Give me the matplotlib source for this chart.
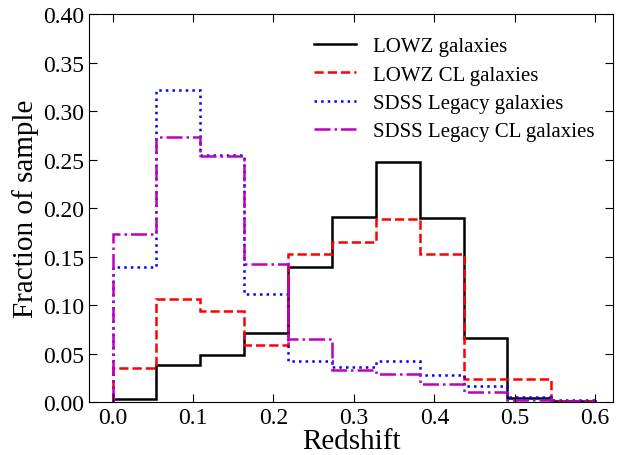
import numpy as np
import matplotlib
matplotlib.use("Agg")
import matplotlib.pyplot as plt

plt.rcParams.update({
    "font.family": ["Liberation Serif", "DejaVu Serif"],
    "mathtext.fontset": "stix",
    "xtick.direction": "in", "ytick.direction": "in",
    "xtick.top": True, "ytick.right": True,
})

# histogram bin edges (11 bins over 0 - 0.6)
edges = np.linspace(0.0, 0.6, 12)

lowz = [0.003, 0.038, 0.049, 0.071, 0.139, 0.191, 0.248, 0.190, 0.066, 0.004, 0.001]
lowz_cl = [0.035, 0.106, 0.094, 0.059, 0.153, 0.165, 0.189, 0.153, 0.024, 0.024, 0.001]
legacy = [0.139, 0.322, 0.255, 0.111, 0.042, 0.036, 0.042, 0.028, 0.017, 0.005, 0.002]
legacy_cl = [0.173, 0.273, 0.254, 0.142, 0.065, 0.033, 0.029, 0.019, 0.010, 0.002, 0.001]

series = [
    (lowz, "LOWZ galaxies", "black", "-"),
    (lowz_cl, "LOWZ CL galaxies", "red", "--"),
    (legacy, "SDSS Legacy galaxies", "blue", ":"),
    (legacy_cl, "SDSS Legacy CL galaxies", "m", "-."),
]

fig = plt.figure(figsize=(6.28, 4.56), dpi=100)
ax = fig.add_axes([0.142, 0.116, 0.834, 0.851])

for vals, lab, col, ls in series:
    ax.stairs(vals, edges, color=col, ls=ls, lw=1.8, label=lab, baseline=0)

ax.set_xlim(-0.029, 0.622)
ax.set_ylim(0, 0.40)
ax.set_xticks(np.arange(0, 0.61, 0.1))
ax.set_yticks(np.arange(0, 0.401, 0.05))
ax.tick_params(labelsize=17, length=6)
ax.set_xlabel("Redshift", fontsize=21, labelpad=0)
ax.set_ylabel("Fraction of sample", fontsize=21, labelpad=3)
ax.legend(loc="upper right", frameon=False, fontsize=15, handlelength=2.0,
          handletextpad=0.8, labelspacing=0.42, bbox_to_anchor=(1.0, 0.99))

fig.savefig("out.png", dpi=100)
